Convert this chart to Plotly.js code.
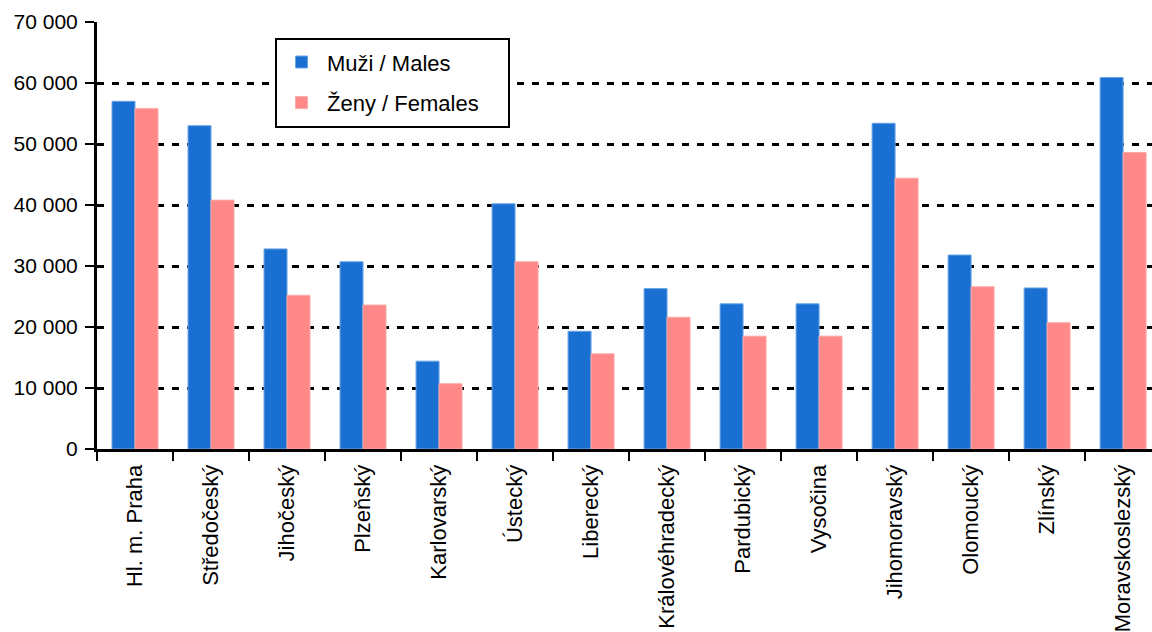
<!DOCTYPE html>
<html>
<head>
<meta charset="utf-8">
<script src="https://cdn.plot.ly/plotly-3.0.1.min.js"></script>
<style>html,body{margin:0;padding:0;background:#fff;}#chart{width:1152px;height:632px;}</style>
</head>
<body>
<div id="chart"></div>
<script>
const regions = ["Hl. m. Praha","Středočeský","Jihočeský","Plzeňský","Karlovarský","Ústecký","Liberecký","Královéhradecký","Pardubický","Vysočina","Jihomoravský","Olomoucký","Zlínský","Moravskoslezský"];
const males   = [57000,53000,32800,30700,14400,40200,19300,26300,23800,23800,53400,31800,26400,60900];
const females = [55800,40800,25200,23600,10700,30700,15600,21600,18500,18500,44400,26600,20700,48600];
const seriesNames = ["Muži / Males","Ženy / Females"];

const FONT = "Liberation Sans, Arial, sans-serif";

const traces = [
  {type:"bar", name:seriesNames[0], x:regions, y:males, legendgroup:"m",
   marker:{color:"#1a6fd2", line:{color:"#6aa6e6", width:1}}},
  {type:"bar", name:seriesNames[1], x:regions, y:females, legendgroup:"f",
   marker:{color:"#ff8888", line:{color:"#ffaaaa", width:1}}}
];

const layout = {
  width:1152, height:632,
  margin:{l:97, r:0, t:22, b:183, pad:0},
  paper_bgcolor:"#fff", plot_bgcolor:"#fff",
  font:{family:FONT, size:22, color:"#000"},
  separators:", ",
  barmode:"group", bargap:0.395, bargroupgap:0,
  showlegend:true,
  legend:{x:0.1697, y:0.955, xanchor:"left", yanchor:"top",
          borderwidth:0, bgcolor:"rgba(0,0,0,0)",
          itemwidth:41, tracegroupgap:9,
          font:{family:FONT, size:22, color:"#000"}},
  shapes:[{type:"rect", xref:"paper", yref:"paper", layer:"above",
           x0:(276-97)/1055, x1:(509-97)/1055, y0:(449-127)/427, y1:(449-39)/427,
           line:{color:"#000", width:2}, fillcolor:"#fff"}],
  xaxis:{type:"category", range:[-0.5, 13.38],
         showline:true, linecolor:"#000", linewidth:3,
         ticks:"outside", tickson:"boundaries", ticklen:9, tickwidth:2, tickcolor:"#000",
         tickangle:-90, ticklabelstandoff:4, tickfont:{family:FONT, size:22, color:"#000"},
         showgrid:false, zeroline:false},
  yaxis:{range:[0,70000], dtick:10000, tickformat:",d",
         showline:true, linecolor:"#000", linewidth:3,
         ticks:"outside", ticklen:9, tickwidth:2, tickcolor:"#000",
         ticklabelstandoff:3, tickfont:{family:FONT, size:21, color:"#000"},
         showgrid:true, gridcolor:"#000", gridwidth:3, griddash:"7px,8px",
         zeroline:false}
};

Plotly.newPlot("chart", traces, layout, {displayModeBar:false, staticPlot:true});
</script>
</body>
</html>
